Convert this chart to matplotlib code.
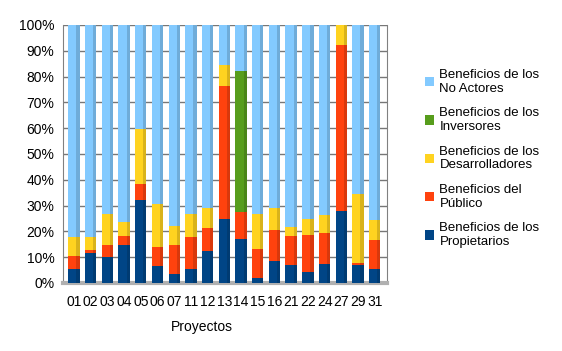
import numpy as np
import matplotlib.pyplot as plt
import matplotlib.colors as mcolors

plt.rcParams['font.family'] = ['Liberation Sans', 'DejaVu Sans']

# proyectos
proyectos = ['01', '02', '03', '04', '05', '06', '07', '11', '12', '13',
             '14', '15', '16', '21', '22', '24', '27', '29', '31']

# porcentajes acumulados (tope de cada segmento)
propietarios = [5.4, 11.6, 9.9, 14.7, 32.0, 6.7, 3.5, 5.4, 12.5, 24.8,
                17.0, 1.8, 8.6, 6.8, 4.1, 7.4, 27.9, 7.1, 5.4]
publico_top = [10.3, 12.9, 14.5, 18.1, 38.3, 14.1, 14.7, 17.8, 21.2, 76.4,
               27.6, 13.2, 20.4, 18.1, 18.7, 19.4, 92.3, 7.7, 16.8]
desarrolladores_top = [17.8, 17.8, 26.7, 23.5, 59.6, 30.7, 21.9, 26.7, 29.0, 84.4,
                       27.6, 26.8, 29.0, 21.7, 24.8, 26.2, 100.0, 34.6, 24.5]
inversores_top = [17.8, 17.8, 26.7, 23.5, 59.6, 30.7, 21.9, 26.7, 29.0, 84.4,
                  82.3, 26.8, 29.0, 21.7, 24.8, 26.2, 100.0, 34.6, 24.5]

# valores de cada serie
publico = np.array(publico_top) - np.array(propietarios)
desarrolladores = np.array(desarrolladores_top) - np.array(publico_top)
inversores = np.array(inversores_top) - np.array(desarrolladores_top)
no_actores = 100 - np.array(inversores_top)

series = [
    ('Beneficios de los\nPropietarios', np.array(propietarios), '#004586'),
    ('Beneficios del\nPúblico', publico, '#ff420e'),
    ('Beneficios de los\nDesarrolladores', desarrolladores, '#ffd320'),
    ('Beneficios de los\nInversores', inversores, '#579d1c'),
    ('Beneficios de los\nNo Actores', no_actores, '#83caff'),
]

fig = plt.figure(figsize=(5.62, 3.51), dpi=100)
ax = fig.add_axes([0.112, 0.194, 0.577, 0.735])

x = np.arange(len(proyectos))
w = 0.68
bottom = np.zeros(len(proyectos))
handles = []
for label, vals, color in series:
    h = ax.bar(x, vals, w, bottom=bottom, color=color, zorder=3, label=label)
    # sombra a la derecha para el efecto 3D
    dark = np.array(mcolors.to_rgb(color)) * 0.85
    ax.bar(x + w * 0.36, vals, w * 0.28, bottom=bottom, color=dark, zorder=3)
    handles.append(h)
    bottom = bottom + vals

ax.set_xlim(-0.66, 18.75)
ax.set_ylim(0, 100)
ax.set_yticks(np.arange(0, 101, 10))
ax.set_yticklabels([f'{v}%' for v in range(0, 101, 10)], fontsize=10)
ax.set_xticks(x)
ax.set_xticklabels(proyectos, fontsize=10)
ax.tick_params(length=0, pad=6)
ax.tick_params(axis='x', pad=9)
ax.yaxis.grid(True, color='#777777', linewidth=1, zorder=0)
ax.spines['top'].set_visible(False)
ax.spines['left'].set_color('#808080')
ax.spines['right'].set_color('#808080')
ax.spines['bottom'].set_color('#b0b0b0')
ax.spines['bottom'].set_linewidth(3)

fig.text(202 / 562, 1 - 327 / 351, 'Proyectos', ha='center', va='center', fontsize=10)

fig.legend(handles[::-1], [s[0] for s in series][::-1], loc='upper left',
           bbox_to_anchor=(413 / 562, 1 - 57 / 351), frameon=False, fontsize=9.5,
           handlelength=0.7, handleheight=0.7, handletextpad=0.4, labelspacing=0.95)

plt.savefig('out.png', dpi=100)
